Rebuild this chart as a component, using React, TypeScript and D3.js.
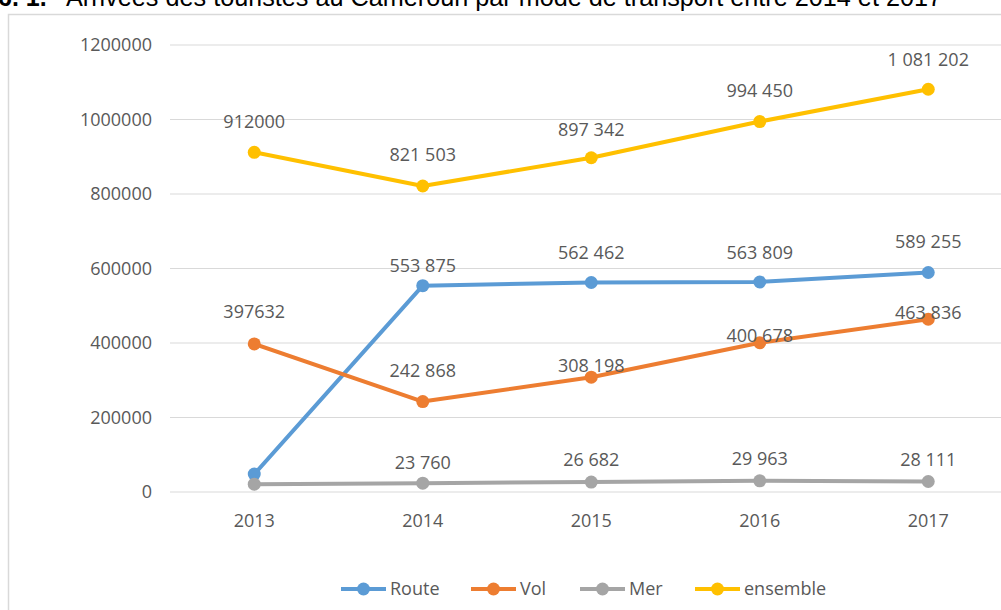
import React from "react";
import * as d3 from "d3";

const years = ["2013", "2014", "2015", "2016", "2017"];
const route = [48000, 553875, 562462, 563809, 589255];
const vol = [397632, 242868, 308198, 400678, 463836];
const mer = [21000, 23760, 26682, 29963, 28111];
const ensemble = [912000, 821503, 897342, 994450, 1081202];
const yTicks = [0, 200000, 400000, 600000, 800000, 1000000, 1200000];
const seriesNames = ["Route", "Vol", "Mer", "ensemble"];
// which points carry a data label
const routeLabelShown = [false, true, true, true, true];
const merLabelShown = [false, true, true, true, true];
const allShown = [true, true, true, true, true];

// label vertical offsets (center above point, px)
const routeLabelOff = [30, 20, 30, 29, 31];
const volLabelOff = [32, 31, 11, 7, 7];
const merLabelOff = [21, 20, 22, 22, 22];
const ensLabelOff = [31, 31, 28, 31, 30];

const colors = ["#5B9BD5", "#ED7D31", "#A5A5A5", "#FFC000"];
const legendX = [341, 471, 580, 695];

const W = 1001;
const H = 610;
const FONT = "'Open Sans', 'Liberation Sans', sans-serif";
const TXT = "#595959";

const groupedFmt = d3.formatLocale({ decimal: ",", thousands: " ", grouping: [3], currency: ["", ""] }).format(",d");

export default function App() {
  const plotLeft = 170;
  const plotRight = 1012.5;
  const x = d3.scaleBand<string>().domain(years).range([plotLeft, plotRight]).padding(0);
  const cx = (y: string) => (x(y) as number) + x.bandwidth() / 2;
  const y = d3.scaleLinear().domain([0, 1200000]).range([492, 45]);

  const series = [
    { name: seriesNames[0], values: route, color: colors[0], shown: routeLabelShown, off: routeLabelOff },
    { name: seriesNames[1], values: vol, color: colors[1], shown: allShown, off: volLabelOff },
    { name: seriesNames[2], values: mer, color: colors[2], shown: merLabelShown, off: merLabelOff },
    { name: seriesNames[3], values: ensemble, color: colors[3], shown: allShown, off: ensLabelOff },
  ];

  const line = d3
    .line<number>()
    .x((_, i) => cx(years[i]))
    .y((d) => y(d));

  const labelText = (v: number, i: number) => (i === 0 ? String(v) : groupedFmt(v));

  return (
    <svg
      width={W}
      height={H}
      style={{ position: "absolute", left: 0, top: 0, background: "#fff" }}
      fontFamily={FONT}
    >
      <rect x={0} y={0} width={W} height={H} fill="#fff" />
      {/* title (partially cut at top) */}
      <text x={-2} y={6} fontFamily="'Liberation Sans', Arial, sans-serif" fontSize={25} fill="#000">
        <tspan fontWeight="bold">6. 1.</tspan>
      </text>
      <text
        x={66}
        y={6}
        fontFamily="'Liberation Sans', Arial, sans-serif"
        fontSize={25}
        fill="#000"
        textLength={876}
        lengthAdjust="spacingAndGlyphs"
      >
        Arrivées des touristes au Cameroun par mode de transport entre 2014 et 2017
      </text>
      {/* chart border */}
      <rect x={8.5} y={14.5} width={W + 20} height={H + 20} fill="none" stroke="#d9d9d9" strokeWidth={1.5} />

      {/* gridlines + y labels */}
      {yTicks.map((t) => (
        <g key={t}>
          <line x1={plotLeft} x2={plotRight} y1={y(t)} y2={y(t)} stroke="#d9d9d9" strokeWidth={1} />
          <text x={152} y={y(t)} dy="0.35em" textAnchor="end" fontSize={18} fill={TXT}>
            {t}
          </text>
        </g>
      ))}

      {/* x labels */}
      {years.map((yr) => (
        <text key={yr} x={cx(yr)} y={521} dy="0.35em" textAnchor="middle" fontSize={18} fill={TXT}>
          {yr}
        </text>
      ))}

      {/* lines */}
      {series.map((s) => (
        <g key={s.name}>
          <path d={line(s.values) || ""} fill="none" stroke={s.color} strokeWidth={4} strokeLinejoin="round" />
          {s.values.map((v, i) => (
            <circle key={i} cx={cx(years[i])} cy={y(v)} r={6.5} fill={s.color} />
          ))}
        </g>
      ))}

      {/* data labels */}
      {series.map((s) => (
        <g key={s.name + "-lbl"}>
          {s.values.map((v, i) =>
            s.shown[i] ? (
              <text
                key={i}
                x={cx(years[i])}
                y={y(v) - s.off[i]}
                dy="0.35em"
                textAnchor="middle"
                fontSize={18}
                fill={TXT}
              >
                {labelText(v, i)}
              </text>
            ) : null
          )}
        </g>
      ))}

      {/* legend */}
      {series.map((s, i) => (
        <g key={s.name + "-leg"} transform={`translate(${legendX[i]},589)`}>
          <line x1={0} x2={45} y1={0} y2={0} stroke={s.color} strokeWidth={4} />
          <circle cx={22.5} cy={0} r={6.5} fill={s.color} />
          <text x={49} y={0} dy="0.35em" fontSize={18} fill={TXT}>
            {s.name}
          </text>
        </g>
      ))}
    </svg>
  );
}
